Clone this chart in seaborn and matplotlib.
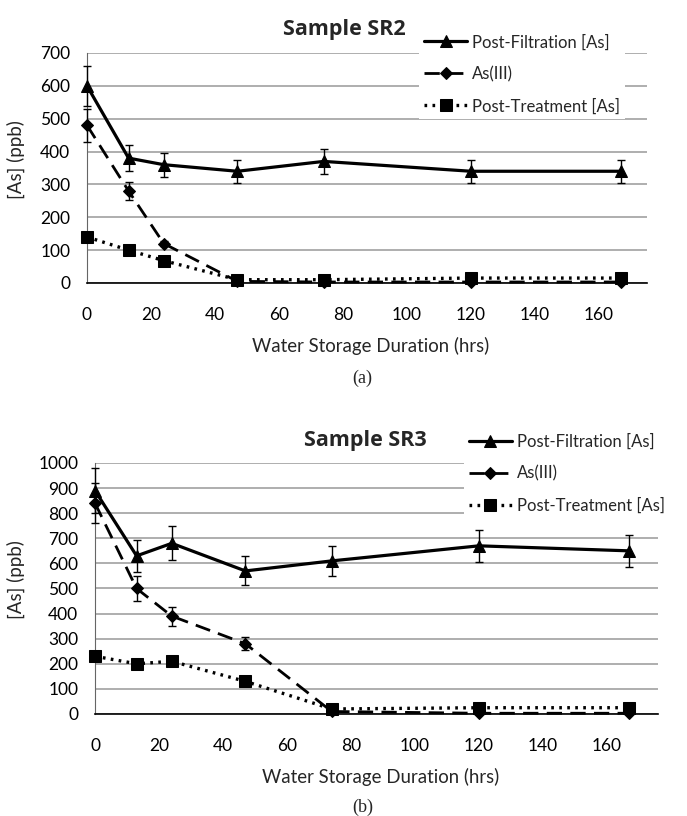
import numpy as np
import pandas as pd
import matplotlib
matplotlib.use("Agg")
import matplotlib.pyplot as plt
import seaborn as sns

# ---- data ----
hours = [0, 13, 24, 47, 74, 120, 167]
series_names = ["Post-Filtration [As]", "As(III)", "Post-Treatment [As]"]

sr2_filtration = [600, 380, 360, 340, 370, 340, 340]
sr2_filtration_err = [60, 40, 37, 35, 37, 35, 35]
sr2_as3 = [480, 280, 120, 5, 3, 3, 3]
sr2_as3_err = [50, 28, 8, 3, 3, 3, 3]
sr2_treatment = [140, 100, 68, 10, 10, 15, 15]
sr2_treatment_err = [8, 6, 5, 3, 3, 3, 3]

sr3_filtration = [890, 630, 680, 570, 610, 670, 650]
sr3_filtration_err = [90, 65, 68, 58, 60, 65, 65]
sr3_as3 = [840, 500, 390, 280, 10, 3, 3]
sr3_as3_err = [80, 50, 38, 25, 5, 3, 3]
sr3_treatment = [230, 200, 210, 130, 20, 25, 25]
sr3_treatment_err = [12, 8, 8, 8, 5, 5, 5]

sns.set_style("white")
plt.rcParams["font.family"] = ["Lato", "DejaVu Sans"]

styles = {
    "Post-Filtration [As]": dict(ls="-", marker="^", ms=9, lw=2.3),
    "As(III)": dict(ls=(0, (5.5, 3.0)), marker="D", ms=6, lw=2.0),
    "Post-Treatment [As]": dict(ls=(0, (0.8, 1.6)), marker="s", ms=8.5, lw=2.4),
}


def draw_panel(ax, values, errors, ymax, xmax, title, title_pos, leg_anchor,
               xlab_pos, ylab_pos, tag, tag_pos):
    for name, y, e in zip(series_names, values, errors):
        df = pd.DataFrame({"hrs": hours, "ppb": y})
        st = styles[name]
        sns.lineplot(data=df, x="hrs", y="ppb", ax=ax, color="black",
                     linestyle=st["ls"], marker=st["marker"], markersize=st["ms"],
                     linewidth=st["lw"], markeredgecolor="black", label=name,
                     clip_on=False, zorder=4)
        ax.errorbar(hours, y, yerr=e, fmt="none", ecolor="black",
                    elinewidth=1, capsize=3.2, capthick=1, clip_on=False, zorder=3)

    ax.set_xlim(0, xmax)
    ax.set_ylim(0, ymax)
    ax.set_xticks(np.arange(0, 161, 20))
    ax.set_yticks(np.arange(0, ymax + 1, 100))
    ax.yaxis.grid(True, color="#a8a8a8", linewidth=1.3)
    ax.xaxis.grid(False)
    for side in ["top", "right"]:
        ax.spines[side].set_visible(False)
    ax.spines["left"].set_color("#666666")
    ax.spines["bottom"].set_color("black")
    ax.spines["bottom"].set_linewidth(1.2)
    ax.tick_params(axis="x", direction="inout", length=7, width=1,
                   pad=14, labelsize=12.5, colors="black")
    ax.tick_params(axis="y", direction="out", length=4, width=1,
                   pad=8, labelsize=12.5, colors="black")
    ax.tick_params(axis="y", color="#666666")

    ax.set_xlabel("Water Storage Duration (hrs)", fontsize=13.4)
    ax.xaxis.set_label_coords(*xlab_pos)
    ax.set_ylabel("[As] (ppb)", fontsize=13.5)
    ax.yaxis.set_label_coords(*ylab_pos)

    ax.text(title_pos[0], title_pos[1], title, transform=ax.transAxes,
            ha="center", va="center", fontsize=15.5, fontweight="bold",
            family=["Open Sans", "DejaVu Sans"])
    ax.text(tag_pos[0], tag_pos[1], tag, transform=ax.transAxes,
            ha="center", va="center", fontsize=13,
            family=["Liberation Serif", "DejaVu Serif"])

    leg = ax.legend(loc="upper left", bbox_to_anchor=leg_anchor, frameon=True,
                    facecolor="white", edgecolor="none", fancybox=False,
                    framealpha=1, fontsize=12, handlelength=2.6,
                    handletextpad=0.3, labelspacing=0.95, borderpad=0.3)
    leg.set_zorder(10)


fig = plt.figure(figsize=(6.87, 8.16), dpi=100)
ax1 = fig.add_axes([0.1266, 0.6532, 0.8151, 0.2819])
ax2 = fig.add_axes([0.1383, 0.1250, 0.8195, 0.3076])

draw_panel(ax1,
           [sr2_filtration, sr2_as3, sr2_treatment],
           [sr2_filtration_err, sr2_as3_err, sr2_treatment_err],
           700, 175, "Sample SR2", (0.46, 1.10), (0.578, 1.14),
           (0.507, -0.235), (-0.111, 0.535), "(a)", (0.491, -0.413))

draw_panel(ax2,
           [sr3_filtration, sr3_as3, sr3_treatment],
           [sr3_filtration_err, sr3_as3_err, sr3_treatment_err],
           1000, 176, "Sample SR3", (0.48, 1.09), (0.640, 1.17),
           (0.508, -0.215), (-0.124, 0.534), "(b)", (0.476, -0.37))

fig.savefig("out.png", dpi=100)
plt.close(fig)
